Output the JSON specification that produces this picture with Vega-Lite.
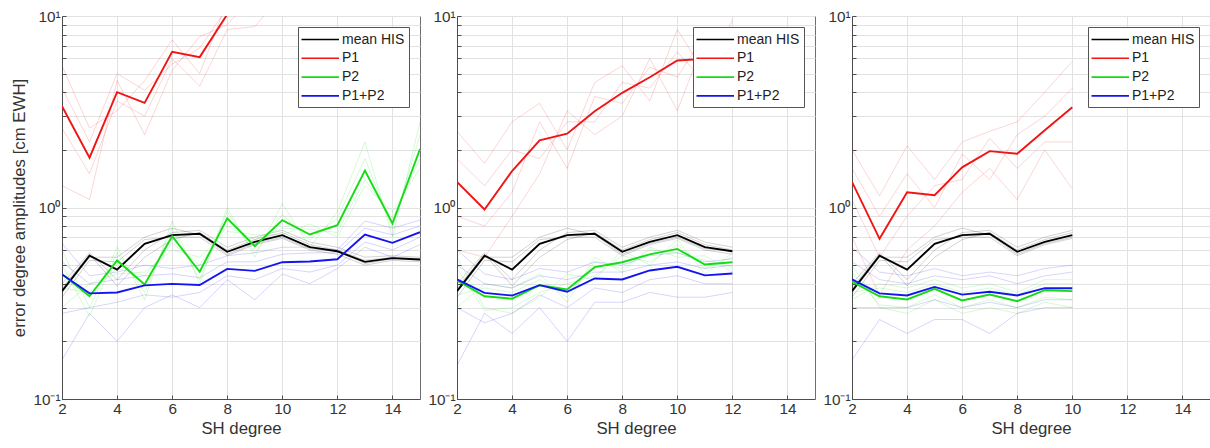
{
  "$schema": "https://vega.github.io/schema/vega-lite/v6.json",
  "background": "white",
  "padding": {"left": 11, "top": 8, "right": 0, "bottom": 0},
  "config": {
    "font": "Liberation Sans",
    "view": {"stroke": "#6e6e6e", "strokeWidth": 1},
    "axis": {
      "domainColor": "#4d4d4d",
      "gridColor": "#e2e2e2",
      "gridWidth": 1,
      "labelColor": "#333333",
      "labelFontSize": 15.3,
      "titleFontSize": 16.8,
      "titleFontWeight": "normal",
      "titleColor": "#333333",
      "tickColor": "#4d4d4d",
      "tickSize": -4,
      "labelFlush": false,
      "labelOverlap": false,
      "labelPadding": 6
    },
    "legend": {
      "orient": "top-right",
      "offset": 11,
      "fillColor": "white",
      "strokeColor": "#555555",
      "padding": 4,
      "title": null,
      "symbolType": "M-1.2,0H3.8",
      "symbolSize": 225,
      "symbolStrokeWidth": 1.6,
      "labelFontSize": 14,
      "labelColor": "#222222",
      "labelOffset": 23,
      "rowPadding": 2.8
    }
  },
  "data": {"values": [
    {"p":1,"m":0,"d":2,"mean HIS":0.366,"P1":3.38,"P2":0.45,"P1+P2":0.447},
    {"p":1,"m":0,"d":3,"mean HIS":0.56,"P1":1.82,"P2":0.344,"P1+P2":0.356},
    {"p":1,"m":0,"d":4,"mean HIS":0.474,"P1":4.0,"P2":0.529,"P1+P2":0.36},
    {"p":1,"m":0,"d":5,"mean HIS":0.646,"P1":3.52,"P2":0.396,"P1+P2":0.392},
    {"p":1,"m":0,"d":6,"mean HIS":0.717,"P1":6.5,"P2":0.708,"P1+P2":0.399},
    {"p":1,"m":0,"d":7,"mean HIS":0.729,"P1":6.1,"P2":0.462,"P1+P2":0.394},
    {"p":1,"m":0,"d":8,"mean HIS":0.587,"P1":10.2,"P2":0.877,"P1+P2":0.478},
    {"p":1,"m":0,"d":9,"mean HIS":0.662,"P1":12,"P2":0.628,"P1+P2":0.467},
    {"p":1,"m":0,"d":10,"mean HIS":0.717,"P1":14,"P2":0.859,"P1+P2":0.518},
    {"p":1,"m":0,"d":11,"mean HIS":0.621,"P1":15,"P2":0.723,"P1+P2":0.522},
    {"p":1,"m":0,"d":12,"mean HIS":0.591,"P1":17,"P2":0.809,"P1+P2":0.537},
    {"p":1,"m":0,"d":13,"mean HIS":0.52,"P1":19,"P2":1.56,"P1+P2":0.723},
    {"p":1,"m":0,"d":14,"mean HIS":0.544,"P1":21,"P2":0.825,"P1+P2":0.654},
    {"p":1,"m":0,"d":15,"mean HIS":0.535,"P1":24,"P2":2.02,"P1+P2":0.743},

    {"p":1,"m":1,"d":2,"mean HIS":0.40,"P1":5.5,"P2":0.60,"P1+P2":0.16},
    {"p":1,"m":1,"d":3,"mean HIS":0.58,"P1":2.6,"P2":0.30,"P1+P2":0.28},
    {"p":1,"m":1,"d":4,"mean HIS":0.42,"P1":3.2,"P2":0.62,"P1+P2":0.20},
    {"p":1,"m":1,"d":5,"mean HIS":0.60,"P1":4.6,"P2":0.33,"P1+P2":0.30},
    {"p":1,"m":1,"d":6,"mean HIS":0.74,"P1":7.5,"P2":0.85,"P1+P2":0.35},
    {"p":1,"m":1,"d":7,"mean HIS":0.76,"P1":5.0,"P2":0.40,"P1+P2":0.30},
    {"p":1,"m":1,"d":8,"mean HIS":0.62,"P1":12,"P2":1.0,"P1+P2":0.42},
    {"p":1,"m":1,"d":9,"mean HIS":0.70,"P1":11,"P2":0.55,"P1+P2":0.33},
    {"p":1,"m":1,"d":10,"mean HIS":0.76,"P1":16,"P2":1.05,"P1+P2":0.45},
    {"p":1,"m":1,"d":11,"mean HIS":0.66,"P1":13,"P2":0.62,"P1+P2":0.40},
    {"p":1,"m":1,"d":12,"mean HIS":0.62,"P1":19,"P2":0.95,"P1+P2":0.48},
    {"p":1,"m":1,"d":13,"mean HIS":0.55,"P1":17,"P2":2.2,"P1+P2":0.62},
    {"p":1,"m":1,"d":14,"mean HIS":0.56,"P1":24,"P2":0.70,"P1+P2":0.55},
    {"p":1,"m":1,"d":15,"mean HIS":0.55,"P1":22,"P2":2.8,"P1+P2":0.64},

    {"p":1,"m":2,"d":2,"mean HIS":0.34,"P1":1.3,"P2":0.30,"P1+P2":0.65},
    {"p":1,"m":2,"d":3,"mean HIS":0.53,"P1":1.1,"P2":0.40,"P1+P2":0.44},
    {"p":1,"m":2,"d":4,"mean HIS":0.52,"P1":4.6,"P2":0.45,"P1+P2":0.46},
    {"p":1,"m":2,"d":5,"mean HIS":0.68,"P1":2.4,"P2":0.46,"P1+P2":0.50},
    {"p":1,"m":2,"d":6,"mean HIS":0.70,"P1":5.2,"P2":0.60,"P1+P2":0.48},
    {"p":1,"m":2,"d":7,"mean HIS":0.70,"P1":7.8,"P2":0.55,"P1+P2":0.50},
    {"p":1,"m":2,"d":8,"mean HIS":0.56,"P1":9,"P2":0.75,"P1+P2":0.56},
    {"p":1,"m":2,"d":9,"mean HIS":0.64,"P1":13,"P2":0.72,"P1+P2":0.58},
    {"p":1,"m":2,"d":10,"mean HIS":0.69,"P1":12,"P2":0.72,"P1+P2":0.62},
    {"p":1,"m":2,"d":11,"mean HIS":0.60,"P1":17,"P2":0.82,"P1+P2":0.62},
    {"p":1,"m":2,"d":12,"mean HIS":0.57,"P1":15,"P2":0.70,"P1+P2":0.60},
    {"p":1,"m":2,"d":13,"mean HIS":0.50,"P1":21,"P2":1.3,"P1+P2":0.85},
    {"p":1,"m":2,"d":14,"mean HIS":0.53,"P1":19,"P2":0.95,"P1+P2":0.78},
    {"p":1,"m":2,"d":15,"mean HIS":0.52,"P1":26,"P2":1.6,"P1+P2":0.86},

    {"p":1,"m":3,"d":2,"mean HIS":0.38,"P1":2.6,"P2":0.50,"P1+P2":0.28},
    {"p":1,"m":3,"d":3,"mean HIS":0.57,"P1":1.5,"P2":0.27,"P1+P2":0.30},
    {"p":1,"m":3,"d":4,"mean HIS":0.39,"P1":3.6,"P2":0.58,"P1+P2":0.32},
    {"p":1,"m":3,"d":5,"mean HIS":0.55,"P1":3.0,"P2":0.36,"P1+P2":0.35},
    {"p":1,"m":3,"d":6,"mean HIS":0.68,"P1":6.0,"P2":0.78,"P1+P2":0.34},
    {"p":1,"m":3,"d":7,"mean HIS":0.74,"P1":4.3,"P2":0.42,"P1+P2":0.36},
    {"p":1,"m":3,"d":8,"mean HIS":0.60,"P1":8.5,"P2":0.95,"P1+P2":0.44},
    {"p":1,"m":3,"d":9,"mean HIS":0.68,"P1":8.8,"P2":0.58,"P1+P2":0.42},
    {"p":1,"m":3,"d":10,"mean HIS":0.74,"P1":13,"P2":0.92,"P1+P2":0.48},
    {"p":1,"m":3,"d":11,"mean HIS":0.64,"P1":14,"P2":0.68,"P1+P2":0.46},
    {"p":1,"m":3,"d":12,"mean HIS":0.60,"P1":18,"P2":0.88,"P1+P2":0.50},
    {"p":1,"m":3,"d":13,"mean HIS":0.53,"P1":20,"P2":1.8,"P1+P2":0.66},
    {"p":1,"m":3,"d":14,"mean HIS":0.55,"P1":23,"P2":0.78,"P1+P2":0.60},
    {"p":1,"m":3,"d":15,"mean HIS":0.54,"P1":27,"P2":2.4,"P1+P2":0.70},

    {"p":1,"m":4,"d":2,"mean HIS":0.36,"P1":4.2,"P2":0.38,"P1+P2":0.52},
    {"p":1,"m":4,"d":3,"mean HIS":0.55,"P1":2.2,"P2":0.36,"P1+P2":0.40},
    {"p":1,"m":4,"d":4,"mean HIS":0.55,"P1":5.0,"P2":0.48,"P1+P2":0.42},
    {"p":1,"m":4,"d":5,"mean HIS":0.70,"P1":4.1,"P2":0.44,"P1+P2":0.44},
    {"p":1,"m":4,"d":6,"mean HIS":0.78,"P1":5.6,"P2":0.65,"P1+P2":0.45},
    {"p":1,"m":4,"d":7,"mean HIS":0.72,"P1":6.8,"P2":0.50,"P1+P2":0.43},
    {"p":1,"m":4,"d":8,"mean HIS":0.57,"P1":11,"P2":0.80,"P1+P2":0.52},
    {"p":1,"m":4,"d":9,"mean HIS":0.65,"P1":10,"P2":0.68,"P1+P2":0.52},
    {"p":1,"m":4,"d":10,"mean HIS":0.70,"P1":15,"P2":0.78,"P1+P2":0.57},
    {"p":1,"m":4,"d":11,"mean HIS":0.61,"P1":16,"P2":0.77,"P1+P2":0.58},
    {"p":1,"m":4,"d":12,"mean HIS":0.59,"P1":16,"P2":0.74,"P1+P2":0.58},
    {"p":1,"m":4,"d":13,"mean HIS":0.51,"P1":18,"P2":1.4,"P1+P2":0.78},
    {"p":1,"m":4,"d":14,"mean HIS":0.54,"P1":20,"P2":0.88,"P1+P2":0.72},
    {"p":1,"m":4,"d":15,"mean HIS":0.53,"P1":23,"P2":1.8,"P1+P2":0.80},

    {"p":2,"m":0,"d":2,"mean HIS":0.366,"P1":1.36,"P2":0.416,"P1+P2":0.421},
    {"p":2,"m":0,"d":3,"mean HIS":0.56,"P1":0.976,"P2":0.344,"P1+P2":0.358},
    {"p":2,"m":0,"d":4,"mean HIS":0.474,"P1":1.55,"P2":0.334,"P1+P2":0.347},
    {"p":2,"m":0,"d":5,"mean HIS":0.646,"P1":2.24,"P2":0.393,"P1+P2":0.393},
    {"p":2,"m":0,"d":6,"mean HIS":0.717,"P1":2.43,"P2":0.373,"P1+P2":0.363},
    {"p":2,"m":0,"d":7,"mean HIS":0.729,"P1":3.18,"P2":0.488,"P1+P2":0.426},
    {"p":2,"m":0,"d":8,"mean HIS":0.587,"P1":3.97,"P2":0.518,"P1+P2":0.421},
    {"p":2,"m":0,"d":9,"mean HIS":0.662,"P1":4.79,"P2":0.569,"P1+P2":0.469},
    {"p":2,"m":0,"d":10,"mean HIS":0.717,"P1":5.86,"P2":0.608,"P1+P2":0.49},
    {"p":2,"m":0,"d":11,"mean HIS":0.621,"P1":5.97,"P2":0.504,"P1+P2":0.442},
    {"p":2,"m":0,"d":12,"mean HIS":0.591,"P1":6.4,"P2":0.518,"P1+P2":0.452},

    {"p":2,"m":1,"d":2,"mean HIS":0.40,"P1":2.5,"P2":0.55,"P1+P2":0.15},
    {"p":2,"m":1,"d":3,"mean HIS":0.58,"P1":1.7,"P2":0.30,"P1+P2":0.28},
    {"p":2,"m":1,"d":4,"mean HIS":0.42,"P1":2.8,"P2":0.28,"P1+P2":0.22},
    {"p":2,"m":1,"d":5,"mean HIS":0.60,"P1":3.5,"P2":0.34,"P1+P2":0.30},
    {"p":2,"m":1,"d":6,"mean HIS":0.74,"P1":2.0,"P2":0.45,"P1+P2":0.20},
    {"p":2,"m":1,"d":7,"mean HIS":0.76,"P1":4.5,"P2":0.42,"P1+P2":0.32},
    {"p":2,"m":1,"d":8,"mean HIS":0.62,"P1":5.5,"P2":0.60,"P1+P2":0.32},
    {"p":2,"m":1,"d":9,"mean HIS":0.70,"P1":3.6,"P2":0.50,"P1+P2":0.36},
    {"p":2,"m":1,"d":10,"mean HIS":0.76,"P1":8.5,"P2":0.68,"P1+P2":0.34},
    {"p":2,"m":1,"d":11,"mean HIS":0.66,"P1":5.0,"P2":0.45,"P1+P2":0.34},
    {"p":2,"m":1,"d":12,"mean HIS":0.62,"P1":9.5,"P2":0.58,"P1+P2":0.36},

    {"p":2,"m":2,"d":2,"mean HIS":0.34,"P1":0.6,"P2":0.30,"P1+P2":0.60},
    {"p":2,"m":2,"d":3,"mean HIS":0.53,"P1":0.55,"P2":0.40,"P1+P2":0.45},
    {"p":2,"m":2,"d":4,"mean HIS":0.52,"P1":0.9,"P2":0.38,"P1+P2":0.42},
    {"p":2,"m":2,"d":5,"mean HIS":0.68,"P1":1.5,"P2":0.45,"P1+P2":0.48},
    {"p":2,"m":2,"d":6,"mean HIS":0.70,"P1":3.2,"P2":0.32,"P1+P2":0.46},
    {"p":2,"m":2,"d":7,"mean HIS":0.70,"P1":2.4,"P2":0.55,"P1+P2":0.52},
    {"p":2,"m":2,"d":8,"mean HIS":0.56,"P1":3.0,"P2":0.46,"P1+P2":0.50},
    {"p":2,"m":2,"d":9,"mean HIS":0.64,"P1":6.0,"P2":0.62,"P1+P2":0.56},
    {"p":2,"m":2,"d":10,"mean HIS":0.69,"P1":3.2,"P2":0.55,"P1+P2":0.58},
    {"p":2,"m":2,"d":11,"mean HIS":0.60,"P1":7.5,"P2":0.56,"P1+P2":0.52},
    {"p":2,"m":2,"d":12,"mean HIS":0.57,"P1":5.0,"P2":0.46,"P1+P2":0.54},

    {"p":2,"m":3,"d":2,"mean HIS":0.38,"P1":1.8,"P2":0.48,"P1+P2":0.30},
    {"p":2,"m":3,"d":3,"mean HIS":0.57,"P1":1.3,"P2":0.29,"P1+P2":0.25},
    {"p":2,"m":3,"d":4,"mean HIS":0.39,"P1":2.0,"P2":0.30,"P1+P2":0.28},
    {"p":2,"m":3,"d":5,"mean HIS":0.55,"P1":1.8,"P2":0.36,"P1+P2":0.35},
    {"p":2,"m":3,"d":6,"mean HIS":0.68,"P1":2.8,"P2":0.40,"P1+P2":0.30},
    {"p":2,"m":3,"d":7,"mean HIS":0.74,"P1":2.8,"P2":0.44,"P1+P2":0.38},
    {"p":2,"m":3,"d":8,"mean HIS":0.60,"P1":4.5,"P2":0.56,"P1+P2":0.36},
    {"p":2,"m":3,"d":9,"mean HIS":0.68,"P1":4.2,"P2":0.52,"P1+P2":0.42},
    {"p":2,"m":3,"d":10,"mean HIS":0.74,"P1":6.5,"P2":0.64,"P1+P2":0.44},
    {"p":2,"m":3,"d":11,"mean HIS":0.64,"P1":4.5,"P2":0.48,"P1+P2":0.40},
    {"p":2,"m":3,"d":12,"mean HIS":0.60,"P1":7.8,"P2":0.55,"P1+P2":0.40},

    {"p":2,"m":4,"d":2,"mean HIS":0.36,"P1":0.9,"P2":0.35,"P1+P2":0.50},
    {"p":2,"m":4,"d":3,"mean HIS":0.55,"P1":0.8,"P2":0.38,"P1+P2":0.40},
    {"p":2,"m":4,"d":4,"mean HIS":0.55,"P1":1.2,"P2":0.36,"P1+P2":0.38},
    {"p":2,"m":4,"d":5,"mean HIS":0.70,"P1":2.8,"P2":0.42,"P1+P2":0.44},
    {"p":2,"m":4,"d":6,"mean HIS":0.78,"P1":1.6,"P2":0.34,"P1+P2":0.42},
    {"p":2,"m":4,"d":7,"mean HIS":0.72,"P1":3.8,"P2":0.52,"P1+P2":0.46},
    {"p":2,"m":4,"d":8,"mean HIS":0.57,"P1":3.5,"P2":0.48,"P1+P2":0.46},
    {"p":2,"m":4,"d":9,"mean HIS":0.65,"P1":5.4,"P2":0.60,"P1+P2":0.50},
    {"p":2,"m":4,"d":10,"mean HIS":0.70,"P1":4.8,"P2":0.58,"P1+P2":0.52},
    {"p":2,"m":4,"d":11,"mean HIS":0.61,"P1":8.0,"P2":0.53,"P1+P2":0.48},
    {"p":2,"m":4,"d":12,"mean HIS":0.59,"P1":6.0,"P2":0.49,"P1+P2":0.50},

    {"p":3,"m":0,"d":2,"mean HIS":0.366,"P1":1.36,"P2":0.41,"P1+P2":0.421},
    {"p":3,"m":0,"d":3,"mean HIS":0.56,"P1":0.686,"P2":0.344,"P1+P2":0.356},
    {"p":3,"m":0,"d":4,"mean HIS":0.474,"P1":1.2,"P2":0.331,"P1+P2":0.347},
    {"p":3,"m":0,"d":5,"mean HIS":0.646,"P1":1.16,"P2":0.376,"P1+P2":0.385},
    {"p":3,"m":0,"d":6,"mean HIS":0.717,"P1":1.62,"P2":0.327,"P1+P2":0.351},
    {"p":3,"m":0,"d":7,"mean HIS":0.729,"P1":1.97,"P2":0.351,"P1+P2":0.363},
    {"p":3,"m":0,"d":8,"mean HIS":0.587,"P1":1.91,"P2":0.324,"P1+P2":0.347},
    {"p":3,"m":0,"d":9,"mean HIS":0.662,"P1":2.53,"P2":0.37,"P1+P2":0.379},
    {"p":3,"m":0,"d":10,"mean HIS":0.717,"P1":3.34,"P2":0.366,"P1+P2":0.379},

    {"p":3,"m":1,"d":2,"mean HIS":0.40,"P1":2.0,"P2":0.50,"P1+P2":0.16},
    {"p":3,"m":1,"d":3,"mean HIS":0.58,"P1":1.15,"P2":0.30,"P1+P2":0.26},
    {"p":3,"m":1,"d":4,"mean HIS":0.42,"P1":2.1,"P2":0.28,"P1+P2":0.22},
    {"p":3,"m":1,"d":5,"mean HIS":0.60,"P1":1.4,"P2":0.33,"P1+P2":0.26},
    {"p":3,"m":1,"d":6,"mean HIS":0.74,"P1":2.2,"P2":0.28,"P1+P2":0.26},
    {"p":3,"m":1,"d":7,"mean HIS":0.76,"P1":2.5,"P2":0.30,"P1+P2":0.22},
    {"p":3,"m":1,"d":8,"mean HIS":0.62,"P1":2.8,"P2":0.28,"P1+P2":0.28},
    {"p":3,"m":1,"d":9,"mean HIS":0.70,"P1":4.0,"P2":0.32,"P1+P2":0.30},
    {"p":3,"m":1,"d":10,"mean HIS":0.76,"P1":5.8,"P2":0.30,"P1+P2":0.30},

    {"p":3,"m":2,"d":2,"mean HIS":0.34,"P1":0.7,"P2":0.33,"P1+P2":0.62},
    {"p":3,"m":2,"d":3,"mean HIS":0.53,"P1":0.35,"P2":0.40,"P1+P2":0.46},
    {"p":3,"m":2,"d":4,"mean HIS":0.52,"P1":0.6,"P2":0.38,"P1+P2":0.44},
    {"p":3,"m":2,"d":5,"mean HIS":0.68,"P1":0.8,"P2":0.42,"P1+P2":0.48},
    {"p":3,"m":2,"d":6,"mean HIS":0.70,"P1":1.2,"P2":0.38,"P1+P2":0.44},
    {"p":3,"m":2,"d":7,"mean HIS":0.70,"P1":1.6,"P2":0.40,"P1+P2":0.46},
    {"p":3,"m":2,"d":8,"mean HIS":0.56,"P1":1.1,"P2":0.36,"P1+P2":0.44},
    {"p":3,"m":2,"d":9,"mean HIS":0.64,"P1":2.0,"P2":0.42,"P1+P2":0.48},
    {"p":3,"m":2,"d":10,"mean HIS":0.69,"P1":1.25,"P2":0.42,"P1+P2":0.50},

    {"p":3,"m":3,"d":2,"mean HIS":0.38,"P1":1.6,"P2":0.46,"P1+P2":0.30},
    {"p":3,"m":3,"d":3,"mean HIS":0.57,"P1":0.9,"P2":0.31,"P1+P2":0.30},
    {"p":3,"m":3,"d":4,"mean HIS":0.39,"P1":1.5,"P2":0.30,"P1+P2":0.30},
    {"p":3,"m":3,"d":5,"mean HIS":0.55,"P1":1.0,"P2":0.35,"P1+P2":0.33},
    {"p":3,"m":3,"d":6,"mean HIS":0.68,"P1":1.9,"P2":0.30,"P1+P2":0.30},
    {"p":3,"m":3,"d":7,"mean HIS":0.74,"P1":1.4,"P2":0.33,"P1+P2":0.32},
    {"p":3,"m":3,"d":8,"mean HIS":0.60,"P1":2.4,"P2":0.30,"P1+P2":0.30},
    {"p":3,"m":3,"d":9,"mean HIS":0.68,"P1":3.0,"P2":0.34,"P1+P2":0.33},
    {"p":3,"m":3,"d":10,"mean HIS":0.74,"P1":4.2,"P2":0.33,"P1+P2":0.33},

    {"p":3,"m":4,"d":2,"mean HIS":0.36,"P1":1.1,"P2":0.36,"P1+P2":0.52},
    {"p":3,"m":4,"d":3,"mean HIS":0.55,"P1":0.55,"P2":0.38,"P1+P2":0.42},
    {"p":3,"m":4,"d":4,"mean HIS":0.55,"P1":0.9,"P2":0.36,"P1+P2":0.40},
    {"p":3,"m":4,"d":5,"mean HIS":0.70,"P1":1.3,"P2":0.40,"P1+P2":0.44},
    {"p":3,"m":4,"d":6,"mean HIS":0.78,"P1":1.4,"P2":0.36,"P1+P2":0.42},
    {"p":3,"m":4,"d":7,"mean HIS":0.72,"P1":2.3,"P2":0.38,"P1+P2":0.44},
    {"p":3,"m":4,"d":8,"mean HIS":0.57,"P1":1.6,"P2":0.35,"P1+P2":0.40},
    {"p":3,"m":4,"d":9,"mean HIS":0.65,"P1":2.2,"P2":0.40,"P1+P2":0.44},
    {"p":3,"m":4,"d":10,"mean HIS":0.70,"P1":2.2,"P2":0.40,"P1+P2":0.46}
  ]},
  "transform": [
    {"fold": ["mean HIS", "P1", "P2", "P1+P2"], "as": ["series", "value"]}
  ],
  "spacing": 37,
  "bounds": "flush",
  "resolve": {"legend": {"color": "independent"}},
  "hconcat": [
    {
      "width": 358,
      "height": 383,
      "transform": [{"filter": "datum.p == 1"}],
      "encoding": {
        "x": {"field": "d", "type": "quantitative",
              "scale": {"domain": [2, 15], "nice": false, "zero": false},
              "axis": {"values": [2, 4, 6, 8, 10, 12, 14], "title": "SH degree"}},
        "y": {"field": "value", "type": "quantitative",
              "scale": {"type": "log", "domain": [0.1, 10], "nice": false},
              "axis": {"title": "error degree amplitudes [cm EWH]",
                       "values": [0.1,0.2,0.3,0.4,0.5,0.6,0.7,0.8,0.9,1,2,3,4,5,6,7,8,9,10],
                       "labelExpr": "datum.value == 10 ? '10¹' : datum.value == 1 ? '10⁰' : datum.value == 0.1 ? '10⁻¹' : ''"}}
      },
      "layer": [
        {
          "transform": [{"filter": "datum.m > 0"}],
          "mark": {"type": "line", "strokeWidth": 0.9, "opacity": 0.2, "clip": true},
          "encoding": {
            "stroke": {"field": "series", "type": "nominal", "legend": null,
                       "scale": {"domain": ["mean HIS", "P1", "P2", "P1+P2"],
                                 "range": ["#000000", "#f01414", "#14dc14", "#1414f0"]}},
            "detail": {"field": "m"}
          }
        },
        {
          "transform": [{"filter": "datum.m == 0"}],
          "mark": {"type": "line", "strokeWidth": 1.9, "clip": true},
          "encoding": {
            "color": {"field": "series", "type": "nominal",
                      "scale": {"domain": ["mean HIS", "P1", "P2", "P1+P2"],
                                "range": ["#000000", "#f01414", "#14dc14", "#1414f0"]}}
          }
        }
      ]
    },
    {
      "width": 358,
      "height": 383,
      "transform": [{"filter": "datum.p == 2"}],
      "encoding": {
        "x": {"field": "d", "type": "quantitative",
              "scale": {"domain": [2, 15], "nice": false, "zero": false},
              "axis": {"values": [2, 4, 6, 8, 10, 12, 14], "title": "SH degree"}},
        "y": {"field": "value", "type": "quantitative",
              "scale": {"type": "log", "domain": [0.1, 10], "nice": false},
              "axis": {"title": null,
                       "values": [0.1,0.2,0.3,0.4,0.5,0.6,0.7,0.8,0.9,1,2,3,4,5,6,7,8,9,10],
                       "labelExpr": "datum.value == 10 ? '10¹' : datum.value == 1 ? '10⁰' : datum.value == 0.1 ? '10⁻¹' : ''"}}
      },
      "layer": [
        {
          "transform": [{"filter": "datum.m > 0"}],
          "mark": {"type": "line", "strokeWidth": 0.9, "opacity": 0.2, "clip": true},
          "encoding": {
            "stroke": {"field": "series", "type": "nominal", "legend": null,
                       "scale": {"domain": ["mean HIS", "P1", "P2", "P1+P2"],
                                 "range": ["#000000", "#f01414", "#14dc14", "#1414f0"]}},
            "detail": {"field": "m"}
          }
        },
        {
          "transform": [{"filter": "datum.m == 0"}],
          "mark": {"type": "line", "strokeWidth": 1.9, "clip": true},
          "encoding": {
            "color": {"field": "series", "type": "nominal",
                      "scale": {"domain": ["mean HIS", "P1", "P2", "P1+P2"],
                                "range": ["#000000", "#f01414", "#14dc14", "#1414f0"]}}
          }
        }
      ]
    },
    {
      "width": 358,
      "height": 383,
      "transform": [{"filter": "datum.p == 3"}],
      "encoding": {
        "x": {"field": "d", "type": "quantitative",
              "scale": {"domain": [2, 15], "nice": false, "zero": false},
              "axis": {"values": [2, 4, 6, 8, 10, 12, 14], "title": "SH degree"}},
        "y": {"field": "value", "type": "quantitative",
              "scale": {"type": "log", "domain": [0.1, 10], "nice": false},
              "axis": {"title": null,
                       "values": [0.1,0.2,0.3,0.4,0.5,0.6,0.7,0.8,0.9,1,2,3,4,5,6,7,8,9,10],
                       "labelExpr": "datum.value == 10 ? '10¹' : datum.value == 1 ? '10⁰' : datum.value == 0.1 ? '10⁻¹' : ''"}}
      },
      "layer": [
        {
          "transform": [{"filter": "datum.m > 0"}],
          "mark": {"type": "line", "strokeWidth": 0.9, "opacity": 0.2, "clip": true},
          "encoding": {
            "stroke": {"field": "series", "type": "nominal", "legend": null,
                       "scale": {"domain": ["mean HIS", "P1", "P2", "P1+P2"],
                                 "range": ["#000000", "#f01414", "#14dc14", "#1414f0"]}},
            "detail": {"field": "m"}
          }
        },
        {
          "transform": [{"filter": "datum.m == 0"}],
          "mark": {"type": "line", "strokeWidth": 1.9, "clip": true},
          "encoding": {
            "color": {"field": "series", "type": "nominal",
                      "scale": {"domain": ["mean HIS", "P1", "P2", "P1+P2"],
                                "range": ["#000000", "#f01414", "#14dc14", "#1414f0"]}}
          }
        }
      ]
    }
  ]
}
